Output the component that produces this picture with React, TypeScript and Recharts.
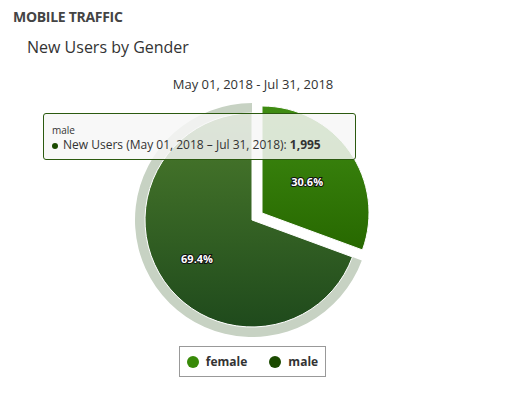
import React from "react";
import { Cell, Pie, PieChart } from "recharts";

const genders = ["female", "male"];
const newUsers = [880, 1995];
const legendColors = ["#388a08", "#1b4a00"];
const fills = ["url(#g-female)", "url(#g-male)"];
const period = "May 01, 2018 - Jul 31, 2018";
const tooltipPeriod = "May 01, 2018 – Jul 31, 2018";
const hovered = 1;

const data = genders.map((g, i) => ({ name: g, value: newUsers[i] }));

const RAD = Math.PI / 180;

function renderLabel(props: any) {
  const { cx, cy, midAngle, percent, name } = props;
  const r = name === "female" ? 55 : 67;
  const x = cx + r * Math.cos(-midAngle * RAD);
  const y = cy + r * Math.sin(-midAngle * RAD);
  return (
    <text x={x} y={y} textAnchor="middle" dominantBaseline="central" fill="#fff" stroke="#111" strokeWidth={2}
          paintOrder="stroke" fontSize={11} fontWeight={700} fontFamily="'Open Sans', sans-serif">
      {(percent * 100).toFixed(1)}%
    </text>
  );
}

export default function App() {
  const pieProps = {
    data,
    dataKey: "value",
    nameKey: "name",
    startAngle: 90,
    endAngle: -270,
    isAnimationActive: false,
  };
  return (
    <div style={{ position: "absolute", left: 0, top: 0, width: 525, height: 394, background: "#fff",
      fontFamily: "'Open Sans', sans-serif" }}>
      <div style={{ position: "absolute", left: 13, top: 7, fontSize: 14, fontWeight: 700, color: "#444",
        letterSpacing: -0.3 }}>MOBILE TRAFFIC</div>
      <div style={{ position: "absolute", left: 27, top: 36, fontSize: 16, color: "#333" }}>New Users by Gender</div>
      <div style={{ position: "absolute", left: 0, width: 506, top: 75, fontSize: 13, color: "#333",
        textAlign: "center" }}>{period}</div>

      <PieChart width={525} height={394} margin={{ top: 0, right: 0, bottom: 0, left: 0 }}
                style={{ position: "absolute", left: 0, top: 0 }}>
        <defs>
          <linearGradient id="g-female" x1="0" y1="0" x2="0" y2="1">
            <stop offset="0%" stopColor="#3f8c12"/>
            <stop offset="100%" stopColor="#276800"/>
          </linearGradient>
          <linearGradient id="g-male" x1="0" y1="0" x2="0" y2="1">
            <stop offset="0%" stopColor="#4b7b2c"/>
            <stop offset="100%" stopColor="#1f4a1c"/>
          </linearGradient>
        </defs>
        {/* hover halo */}
        <Pie {...pieProps} cx={252} cy={220} innerRadius={107} outerRadius={117} stroke="none" label={false}>
          {data.map((d, i) => (
            <Cell key={d.name} fill={i === hovered ? "#c7d2c3" : "transparent"}/>
          ))}
        </Pie>
        <Pie {...pieProps} cx={252} cy={220} outerRadius={107} stroke="#fff" strokeWidth={1}
             label={(p: any) => (p.index === 1 ? renderLabel(p) : null)} labelLine={false}>
          {data.map((d, i) => (
            <Cell key={d.name} fill={i === 1 ? fills[i] : "transparent"} stroke={i === 1 ? "#fff" : "none"}/>
          ))}
        </Pie>
        {/* sliced female point */}
        <Pie {...pieProps} cx={262} cy={213} outerRadius={107} stroke="#fff" strokeWidth={1}
             label={(p: any) => (p.index === 0 ? renderLabel(p) : null)} labelLine={false}>
          {data.map((d, i) => (
            <Cell key={d.name} fill={i === 0 ? fills[i] : "transparent"} stroke={i === 0 ? "#fff" : "none"}/>
          ))}
        </Pie>
      </PieChart>

      <div style={{ position: "absolute", left: 43, top: 113, width: 313, height: 47, boxSizing: "border-box",
        border: "1px solid #2c5a10", borderRadius: 3, background: "rgba(247,247,247,0.85)", color: "#333" }}>
        <div style={{ position: "absolute", left: 8, top: 10, fontSize: 10, lineHeight: "12px" }}>
          {genders[hovered]}
        </div>
        <div style={{ position: "absolute", left: 8, top: 23, fontSize: 12, lineHeight: "16px", whiteSpace: "nowrap" }}>
          <span style={{ display: "inline-block", width: 6, height: 6, borderRadius: 3, marginRight: 5,
            verticalAlign: "middle", background: legendColors[hovered] }}/>
          New Users ({tooltipPeriod}): <b>{newUsers[hovered].toLocaleString("en-US")}</b>
        </div>
      </div>

      <div style={{ position: "absolute", left: 179, top: 346, width: 147, height: 31, boxSizing: "border-box",
        border: "1px solid #999", display: "flex", alignItems: "center", justifyContent: "center", gap: 22 }}>
        {genders.map((g, i) => (
          <div key={g} style={{ display: "flex", alignItems: "center", fontSize: 12, fontWeight: 700, color: "#333" }}>
            <span style={{ display: "inline-block", width: 12, height: 12, borderRadius: 6,
              background: legendColors[i], marginRight: 7 }}/>
            {g}
          </div>
        ))}
      </div>
    </div>
  );
}
